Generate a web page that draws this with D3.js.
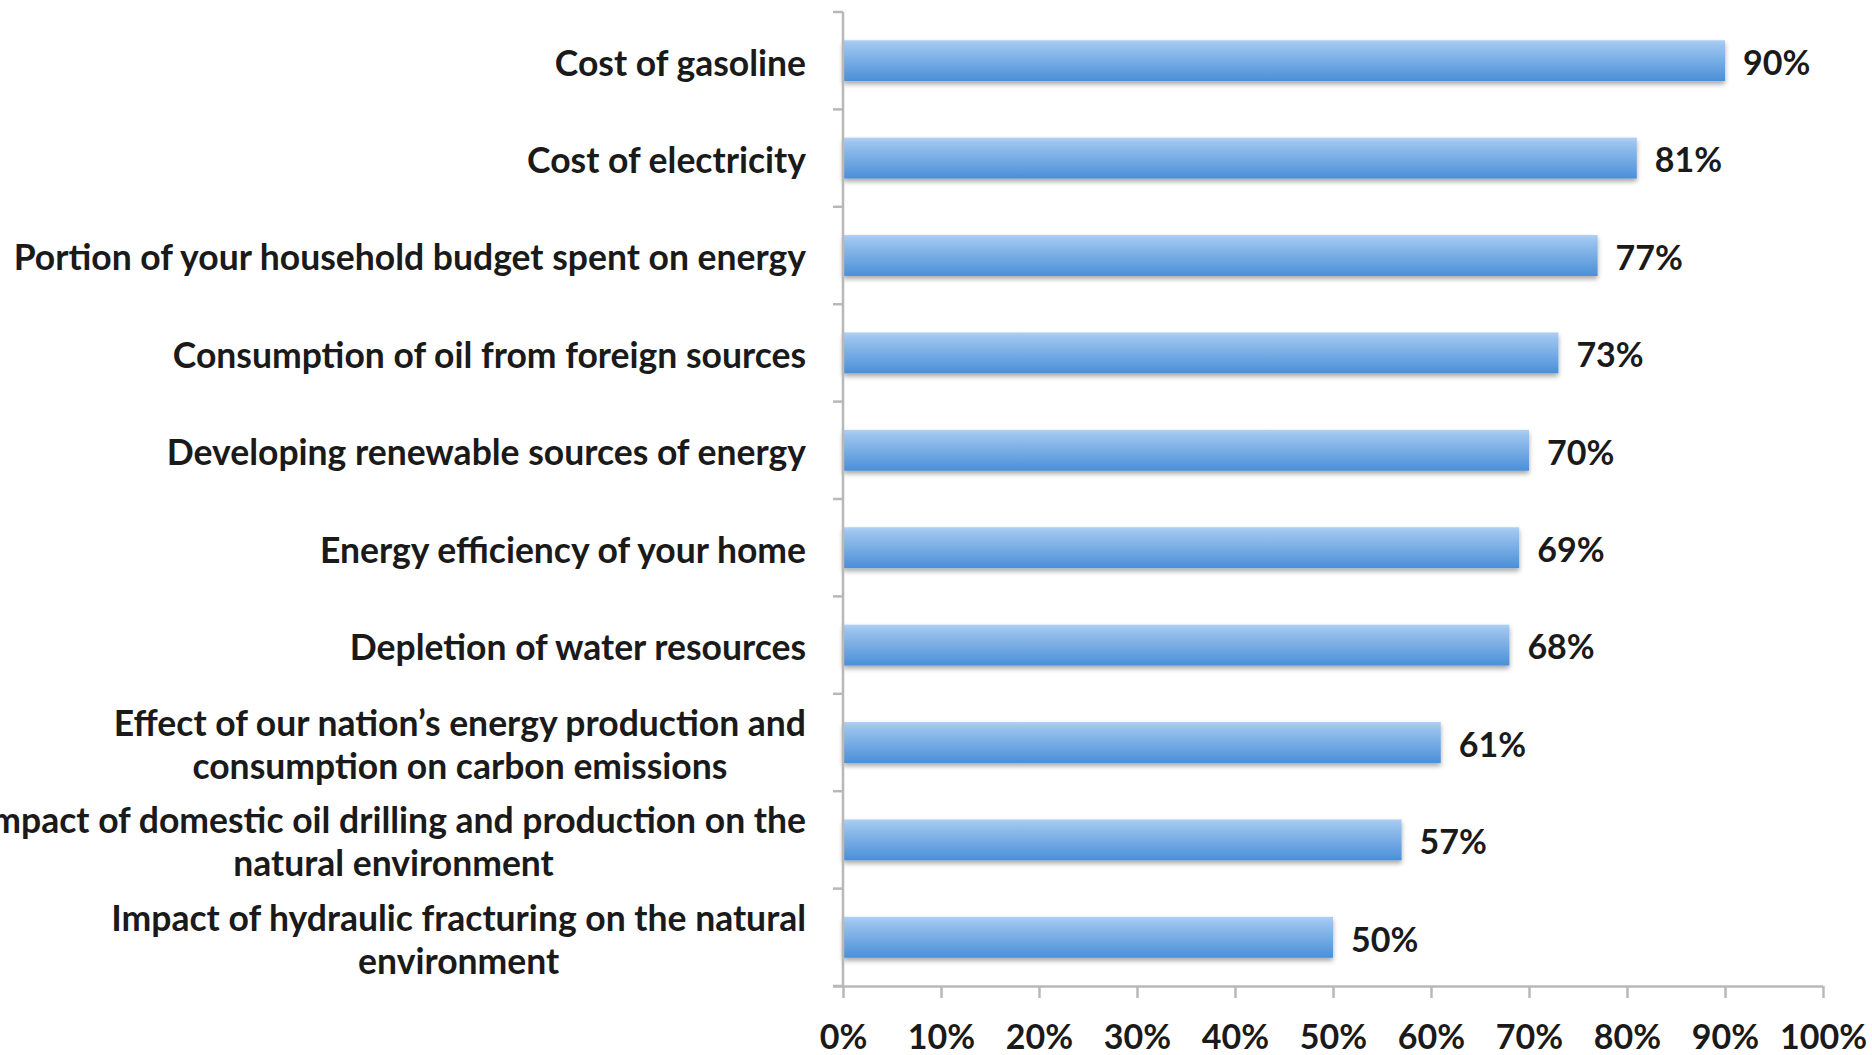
<!DOCTYPE html>
<html>
<head>
<meta charset="utf-8">
<script src="https://cdn.jsdelivr.net/npm/d3@7"></script>
<style>
  html, body { margin: 0; padding: 0; background: #ffffff; overflow: hidden; }
  svg { display: block; }
  text { font-family: Lato, "Open Sans", sans-serif; font-weight: 700; fill: #1a1a1a; }
</style>
</head>
<body>
<svg id="chart" width="1872" height="1055"></svg>
<script>
// Survey items (each entry is a list of label lines) and share of respondents concerned
const categories = [
  ["Cost of gasoline"],
  ["Cost of electricity"],
  ["Portion of your household budget spent on energy"],
  ["Consumption of oil from foreign sources"],
  ["Developing renewable sources of energy"],
  ["Energy efficiency of your home"],
  ["Depletion of water resources"],
  ["Effect of our nation\u2019s energy production and", "consumption on carbon emissions"],
  ["Impact of domestic oil drilling and production on the", "natural environment"],
  ["Impact of hydraulic fracturing on the natural", "environment"]
];
const values = [0.90, 0.81, 0.77, 0.73, 0.70, 0.69, 0.68, 0.61, 0.57, 0.50];
const xTicks = [0, 0.1, 0.2, 0.3, 0.4, 0.5, 0.6, 0.7, 0.8, 0.9, 1.0];

const svg = d3.select("#chart");
const plot = { left: 843, right: 1823, top: 12, bottom: 986 };
const labelRight = 806;
const labelSize = 35.5;
const valueSize = 34;

const x = d3.scaleLinear().domain([0, 1]).range([plot.left, plot.right]);
const y = d3.scaleBand()
  .domain(d3.range(categories.length))
  .range([plot.top, plot.bottom])
  .paddingInner(0.58)
  .paddingOuter(0.29);

const defs = svg.append("defs");
const grad = defs.append("linearGradient")
  .attr("id", "barFill").attr("x1", 0).attr("y1", 0).attr("x2", 0).attr("y2", 1);
grad.append("stop").attr("offset", "0%").attr("stop-color", "#aed0f5");
grad.append("stop").attr("offset", "12%").attr("stop-color", "#9cc4ef");
grad.append("stop").attr("offset", "100%").attr("stop-color", "#4a8fd8");

const shadow = defs.append("filter").attr("id", "barShadow")
  .attr("x", "-5%").attr("y", "-20%").attr("width", "110%").attr("height", "160%");
shadow.append("feGaussianBlur").attr("in", "SourceAlpha").attr("stdDeviation", 2.5).attr("result", "b");
shadow.append("feOffset").attr("in", "b").attr("dx", 0).attr("dy", 3).attr("result", "o");
shadow.append("feComponentTransfer").attr("in", "o").attr("result", "s")
  .append("feFuncA").attr("type", "linear").attr("slope", 0.35);
const merge = shadow.append("feMerge");
merge.append("feMergeNode").attr("in", "s");
merge.append("feMergeNode").attr("in", "SourceGraphic");

// Bars
svg.append("g").selectAll("rect")
  .data(values)
  .join("rect")
  .attr("x", x(0))
  .attr("y", (d, i) => y(i))
  .attr("width", d => x(d) - x(0))
  .attr("height", y.bandwidth())
  .attr("fill", "url(#barFill)")
  .attr("filter", "url(#barShadow)");

// Value labels
svg.append("g").selectAll("text")
  .data(values)
  .join("text")
  .attr("x", d => x(d) + 18)
  .attr("y", (d, i) => y(i) + y.bandwidth() / 2)
  .attr("dy", "0.42em")
  .attr("font-size", valueSize)
  .text(d => d3.format(".0%")(d));

// Category axis: line plus ticks at band boundaries
const axisColor = "#b8b8b8";
const yAxis = svg.append("g");
yAxis.append("line")
  .attr("x1", plot.left).attr("x2", plot.left)
  .attr("y1", plot.top).attr("y2", plot.bottom)
  .attr("stroke", axisColor).attr("stroke-width", 2.5);
const boundaries = d3.range(categories.length + 1).map(i => plot.top + i * y.step());
yAxis.selectAll("line.tick")
  .data(boundaries)
  .join("line")
  .attr("class", "tick")
  .attr("x1", plot.left - 10).attr("x2", plot.left)
  .attr("y1", d => d).attr("y2", d => d)
  .attr("stroke", axisColor).attr("stroke-width", 2.5);

// Category labels: the block is right-aligned, lines within it are centred
const lineGap = 43;
const labelGroup = svg.append("g");
categories.forEach((lines, i) => {
  const cy = y(i) + y.bandwidth() / 2;
  const t = labelGroup.append("text").attr("font-size", labelSize);
  const spans = lines.map((ln, k) => t.append("tspan")
    .attr("y", cy + (k - (lines.length - 1) / 2) * lineGap)
    .attr("dy", "0.42em")
    .text(ln));
  if (lines.length === 1) {
    t.attr("text-anchor", "end");
    spans[0].attr("x", labelRight);
  } else {
    const widest = d3.max(spans, s => s.node().getComputedTextLength());
    t.attr("text-anchor", "middle");
    spans.forEach(s => s.attr("x", labelRight - widest / 2));
  }
});

// Value axis
const xAxis = svg.append("g").attr("transform", `translate(0,${plot.bottom})`)
  .call(d3.axisBottom(x).tickValues(xTicks).tickFormat(d3.format(".0%")).tickSize(12).tickPadding(27));
xAxis.select(".domain").attr("stroke", axisColor).attr("stroke-width", 2.5)
  .attr("d", `M${plot.left - 10},0.5H${plot.right}`);
xAxis.selectAll(".tick line").attr("stroke", axisColor).attr("stroke-width", 2.5);
xAxis.selectAll(".tick text")
  .attr("font-size", valueSize)
  .attr("font-family", "Lato, 'Open Sans', sans-serif")
  .attr("font-weight", 700)
  .attr("fill", "#1a1a1a");
</script>
</body>
</html>
